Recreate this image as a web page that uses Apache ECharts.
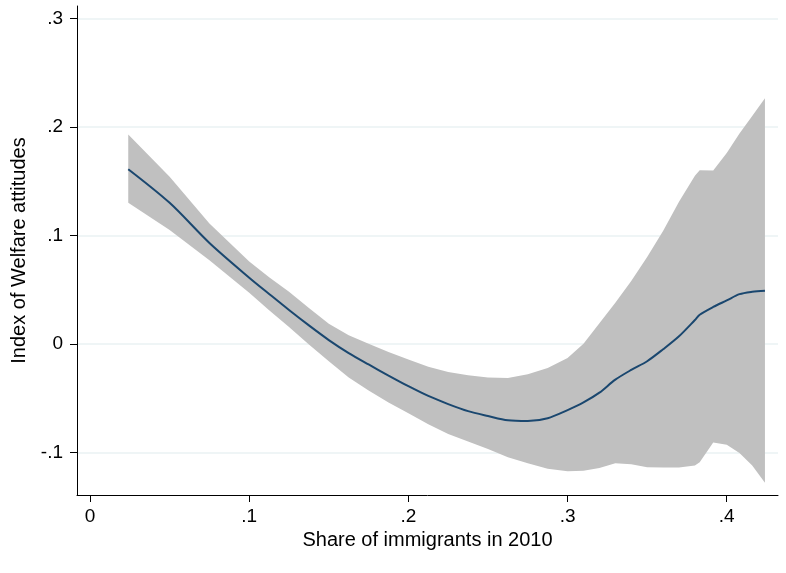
<!DOCTYPE html>
<html>
<head>
<meta charset="utf-8">
<script src="https://cdn.jsdelivr.net/npm/echarts@6/dist/echarts.min.js"></script>
<style>
  html, body { margin: 0; padding: 0; background: #fff; }
  #chart { width: 786px; height: 573px; }
</style>
</head>
<body>
<div id="chart"></div>
<script>
// share of immigrants (x)
var shareX = [0.024, 0.05, 0.075, 0.1, 0.1125, 0.125, 0.1375, 0.15, 0.1625, 0.175, 0.1875, 0.2, 0.2125, 0.225, 0.2375, 0.25,
  0.2625, 0.275, 0.2875, 0.3, 0.31, 0.32, 0.33, 0.34, 0.35, 0.36, 0.37, 0.38, 0.383, 0.3915, 0.4, 0.408, 0.416, 0.424];
// fitted index of welfare attitudes
var fitted = [0.161, 0.130, 0.093, 0.061, 0.046, 0.0312, 0.017, 0.0035, -0.0085, -0.019, -0.0292, -0.039, -0.048, -0.0555, -0.062, -0.0665,
  -0.0705, -0.0712, -0.0685, -0.061, -0.054, -0.045, -0.033, -0.024, -0.016, -0.005, 0.007, 0.022, 0.0268, 0.034, 0.040, 0.0458, 0.048, 0.049];
// confidence band
var upperCI = [0.193, 0.154, 0.111, 0.076, 0.0615, 0.048, 0.033, 0.0185, 0.008, 0.000, -0.0075, -0.0145, -0.021, -0.026, -0.029, -0.031,
  -0.0315, -0.028, -0.0223, -0.013, 0.000, 0.019, 0.038, 0.058, 0.080, 0.104, 0.131, 0.155, 0.160, 0.1597, 0.176, 0.194, 0.210, 0.2264];
var lowerCI = [0.130, 0.105, 0.077, 0.047, 0.031, 0.0155, -0.0005, -0.016, -0.031, -0.043, -0.054, -0.064, -0.074, -0.083, -0.090, -0.097,
  -0.1045, -0.110, -0.115, -0.1175, -0.117, -0.1144, -0.110, -0.111, -0.1138, -0.114, -0.114, -0.112, -0.109, -0.091, -0.093, -0.1006, -0.112, -0.128];
// ticks
var xTicks = [0, 0.1, 0.2, 0.3, 0.4];
var yTicks = [-0.1, 0, 0.1, 0.2, 0.3];

var chart = echarts.init(document.getElementById('chart'));

function fmt(v) {
  // stata style: .1, -.1, 0
  if (v === 0) return '0';
  return String(v).replace('0.', '.');
}

var bandData = shareX.map(function (x, i) { return [x, lowerCI[i], upperCI[i]]; });
var lineData = shareX.map(function (x, i) { return [x, fitted[i]]; });

var font = 'Liberation Sans, Arial, Helvetica, sans-serif';

var option = {
  animation: false,
  backgroundColor: '#fff',
  grid: { left: 77, right: 8, top: 6, bottom: 78 },
  xAxis: {
    type: 'value',
    min: -0.0082,
    max: 0.4322,
    name: 'Share of immigrants in 2010',
    nameLocation: 'middle',
    nameGap: 34,
    nameTextStyle: { fontFamily: font, fontSize: 20, color: '#000' },
    axisLine: { show: true, onZero: false, lineStyle: { color: '#000', width: 1 } },
    axisTick: { show: true, length: 7, customValues: xTicks, lineStyle: { color: '#000' } },
    axisLabel: { customValues: xTicks, formatter: fmt, margin: 12, fontFamily: font, fontSize: 19, color: '#000' },
    splitLine: { show: false }
  },
  yAxis: {
    type: 'value',
    min: -0.1393,
    max: 0.3114,
    name: 'Index of Welfare attitudes',
    nameLocation: 'middle',
    nameGap: 42,
    nameTextStyle: { fontFamily: font, fontSize: 20, color: '#000' },
    axisLine: { show: true, onZero: false, lineStyle: { color: '#000', width: 1 } },
    axisTick: { show: true, length: 7, customValues: yTicks, lineStyle: { color: '#000' } },
    axisLabel: { customValues: yTicks, formatter: fmt, margin: 14, fontFamily: font, fontSize: 19, color: '#000' },
    splitLine: { show: true, lineStyle: { color: '#eaf2f3', width: 1.5 } }
  },
  series: [
    {
      type: 'custom',
      data: bandData,
      encode: { x: 0, y: [1, 2] },
      silent: true,
      z: 1,
      renderItem: function (params, api) {
        if (params.dataIndex !== 0) return;
        var pts = [];
        for (var i = 0; i < bandData.length; i++) {
          pts.push(api.coord([bandData[i][0], bandData[i][2]]));
        }
        for (var j = bandData.length - 1; j >= 0; j--) {
          pts.push(api.coord([bandData[j][0], bandData[j][1]]));
        }
        return { type: 'polygon', shape: { points: pts }, style: { fill: '#c0c0c0' } };
      }
    },
    {
      type: 'line',
      data: lineData,
      z: 3,
      smooth: 0.3,
      showSymbol: false,
      lineStyle: { color: '#1a476f', width: 2 }
    }
  ]
};

chart.setOption(option);
</script>
</body>
</html>
